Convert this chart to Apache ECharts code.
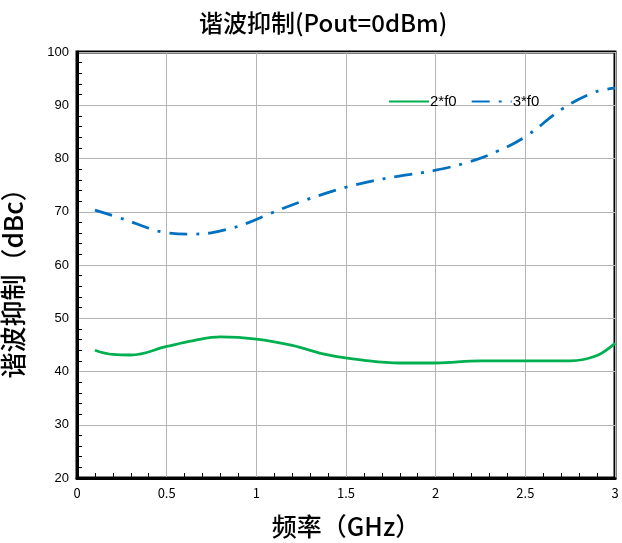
<!DOCTYPE html>
<html>
<head>
<meta charset="utf-8">
<style>
  html, body { margin: 0; padding: 0; background: #fff; }
  #chart { width: 622px; height: 543px; }
</style>
<script src="https://cdn.jsdelivr.net/npm/echarts@6/dist/echarts.min.js"></script>
</head>
<body>
<div id="chart"></div>
<script>
// Frequency points (GHz) and harmonic suppression (dBc) for each harmonic
const freq2 = [0.10, 0.20, 0.30, 0.50, 0.65, 0.80, 1.00, 1.20, 1.40, 1.60, 1.80, 2.00, 2.25, 2.50, 2.75, 2.90, 3.00];
const supp2 = [44.0, 43.2, 43.1, 44.7, 45.8, 46.5, 46.1, 44.9, 43.1, 42.1, 41.6, 41.6, 42.0, 42.0, 42.0, 43.0, 45.3];

const freq3 = [0.10, 0.27, 0.40, 0.49, 0.62, 0.74, 0.86, 0.96, 1.08, 1.25, 1.39, 1.50, 1.65, 1.78, 2.00, 2.19, 2.34, 2.50, 2.71, 2.89, 3.00];
const supp3 = [70.3, 68.5, 66.9, 66.1, 65.8, 66.0, 66.9, 68.0, 69.7, 71.9, 73.5, 74.6, 75.8, 76.6, 77.8, 79.4, 81.3, 84.1, 89.4, 92.5, 93.2];

const seriesNames = ['2*f0', '3*f0'];
const xTicks = [0, 0.5, 1, 1.5, 2, 2.5, 3];
const yTicks = [20, 30, 40, 50, 60, 70, 80, 90, 100];

const pairs = (xs, ys) => xs.map((x, i) => [x, ys[i]]);

const cjk = '"Noto Sans CJK SC", sans-serif';
const chart = echarts.init(document.getElementById('chart'), null, { renderer: 'canvas' });

chart.setOption({
  animation: false,
  backgroundColor: '#fff',
  title: {
    text: '谐波抑制(Pout=0dBm)',
    left: 194,
    top: 6,
    textStyle: { fontFamily: cjk, fontSize: 24, fontWeight: 500, color: '#000' }
  },
  legend: {
    left: 383,
    top: 89,
    itemWidth: 40,
    itemHeight: 12,
    itemGap: 14,
    itemStyle: { opacity: 0 },
    textStyle: { fontFamily: 'Liberation Sans, sans-serif', fontSize: 15, color: '#000', padding: [0, 0, 0, -4] },
    data: seriesNames
  },
  grid: {
    left: 77, right: 7, top: 52, bottom: 65,
    outerBoundsMode: 'none',
    show: true, borderColor: '#000', borderWidth: 3
  },
  xAxis: {
    type: 'value',
    min: xTicks[0], max: xTicks[xTicks.length - 1], interval: 0.5,
    name: '频率（GHz）',
    nameLocation: 'middle',
    nameGap: 36,
    nameTextStyle: { fontFamily: cjk, fontSize: 25, color: '#000', fontWeight: 500 },
    axisLine: { lineStyle: { color: '#000', width: 3 } },
    axisTick: { show: false, inside: true },
    minorTick: { show: true, splitNumber: 5, length: 5, lineStyle: { color: '#000', width: 1 } },
    axisLabel: {
      fontFamily: cjk, fontSize: 13, color: '#000', margin: 9,
      formatter: v => String(v)
    },
    splitLine: { show: true, lineStyle: { color: '#b4b4b4', width: 1 } }
  },
  yAxis: {
    type: 'value',
    min: yTicks[0], max: yTicks[yTicks.length - 1], interval: 10,
    name: '谐波抑制（dBc）',
    nameLocation: 'middle',
    nameGap: 51,
    nameTextStyle: { fontFamily: cjk, fontSize: 26, color: '#000', fontWeight: 500, padding: [0, 24, 0, 0] },
    axisLine: { lineStyle: { color: '#000', width: 3 } },
    axisTick: { show: false, inside: true },
    minorTick: { show: true, splitNumber: 5, length: 5, lineStyle: { color: '#000', width: 1 } },
    axisLabel: { fontFamily: 'Liberation Sans, sans-serif', fontSize: 13, color: '#000', margin: 8 },
    splitLine: { show: true, lineStyle: { color: '#b4b4b4', width: 1 } }
  },
  series: [
    {
      name: seriesNames[0],
      type: 'line',
      smooth: 0.4,
      symbol: 'none',
      data: pairs(freq2, supp2),
      lineStyle: { color: '#00b050', width: 2.8 },
      itemStyle: { color: '#00b050' }
    },
    {
      name: seriesNames[1],
      type: 'line',
      smooth: 0.4,
      symbol: 'none',
      data: pairs(freq3, supp3),
      lineStyle: { color: '#0070c0', width: 2.8, type: [18, 9, 3, 9] },
      itemStyle: { color: '#0070c0' }
    }
  ]
});
</script>
</body>
</html>
